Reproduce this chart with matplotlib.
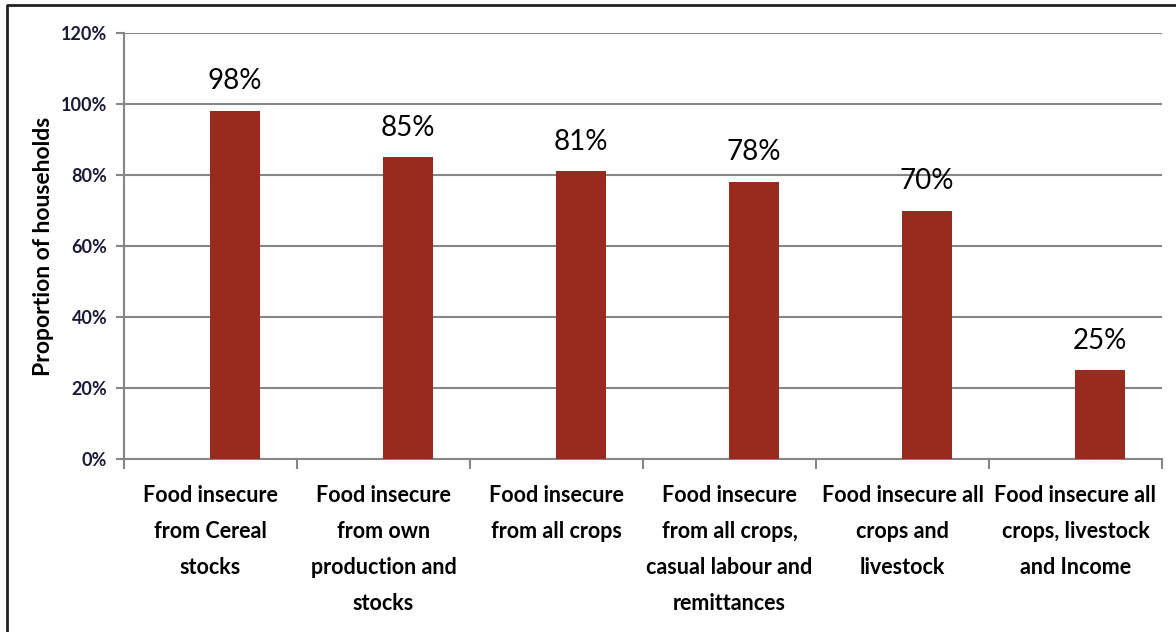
import matplotlib.pyplot as plt
import numpy as np
from matplotlib.lines import Line2D
from matplotlib.ticker import PercentFormatter

categories = [
    "Food insecure\nfrom Cereal\nstocks",
    "Food insecure\nfrom own\nproduction and\nstocks",
    "Food insecure\nfrom all crops",
    "Food insecure\nfrom all crops,\ncasual labour and\nremittances",
    "Food insecure all\ncrops and\nlivestock",
    "Food insecure all\ncrops, livestock\nand Income",
]
values = [98, 85, 81, 78, 70, 25]
value_labels = ["98%", "85%", "81%", "78%", "70%", "25%"]
y_ticks = [0, 20, 40, 60, 80, 100, 120]

bar_color = "#992B1E"
grid_color = "#868686"
font = ["Lato", "DejaVu Sans"]

fig = plt.figure(figsize=(11.76, 6.32), dpi=100)
# frame only shows on the top and left edges (image is cropped)
fig.lines.append(Line2D([7 / 1176, 7 / 1176, 1.0], [0.0, 1 - 5 / 632, 1 - 5 / 632],
                        transform=fig.transFigure, color="#222222", linewidth=2))

ax = fig.add_axes([124 / 1176, 1 - 459 / 632, (1162 - 124) / 1176, (459 - 33) / 632])

x = np.arange(len(values))
# bars sit right of the category centre (hidden second series in original)
ax.bar(x + 0.14, values, width=0.29, color=bar_color, zorder=3)

for xi, v, lab in zip(x, values, value_labels):
    ax.annotate(lab, (xi + 0.14, v), xytext=(0, 12), textcoords="offset points",
                ha="center", va="bottom", fontsize=20, family=font)

ax.set_xlim(-0.5, len(values) - 0.5)
ax.set_ylim(0, 120)
ax.set_yticks(y_ticks)
ax.yaxis.set_major_formatter(PercentFormatter(decimals=0))
ax.grid(axis="y", color=grid_color, linewidth=1.5, zorder=0)

ax.set_xticks(np.arange(len(values) + 1) - 0.5)
ax.set_xticklabels([])
ax.set_xticks(x, minor=True)
ax.set_xticklabels(categories, minor=True, fontsize=15.5, fontweight="bold",
                   family=font, linespacing=1.88, va="top")
ax.tick_params(axis="x", which="minor", length=0, pad=19)
ax.tick_params(axis="x", which="major", length=7, width=1.5, color=grid_color, direction="out")
ax.tick_params(axis="y", length=6, width=1.5, color=grid_color, labelsize=13, pad=6)
for lbl in ax.get_yticklabels():
    lbl.set_family(font)
    lbl.set_fontweight("bold")
    lbl.set_color("#1a1a3a")

for side in ["top", "right"]:
    ax.spines[side].set_visible(False)
for side in ["left", "bottom"]:
    ax.spines[side].set_color(grid_color)
    ax.spines[side].set_linewidth(1.5)

ax.set_ylabel("Proportion of households", fontsize=16.5, fontweight="bold", family=font, labelpad=5)

fig.savefig("out.png", dpi=100)
